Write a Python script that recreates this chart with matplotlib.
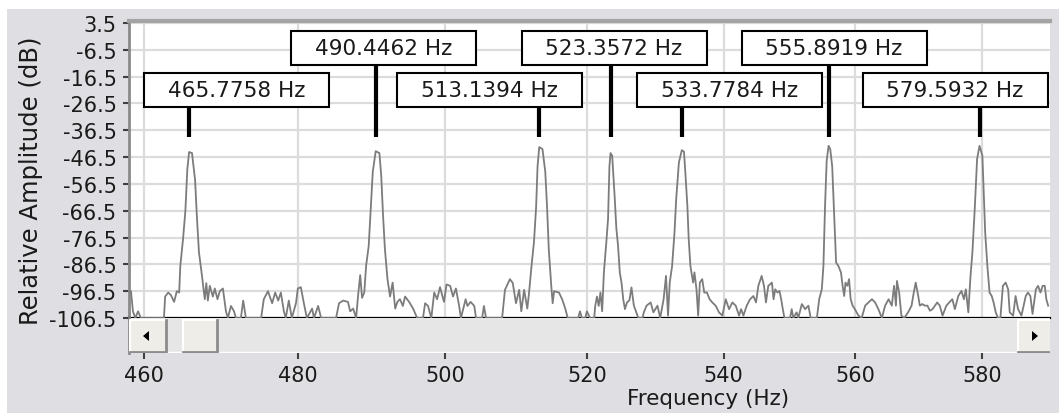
import matplotlib
matplotlib.use("Agg")
import matplotlib.pyplot as plt
from matplotlib.patches import Rectangle, Polygon
from matplotlib.lines import Line2D
from matplotlib.transforms import blended_transform_factory

# ---------------- data ----------------
freq_hz = [
    458.1, 458.35, 458.6, 458.9, 459.25, 459.6, 462.55, 462.7, 463.1, 463.45,
    463.85, 464.2, 464.5, 464.65, 465.0, 465.3, 465.55, 465.78, 466.15, 466.55,
    466.8, 467.05, 467.45, 467.8, 468.0, 468.2, 468.45, 468.85, 469.1, 469.45,
    469.75, 470.15, 470.55, 470.8, 471.2, 471.6, 471.85, 472.5, 472.8, 473.15,
    475.15, 475.5, 476.05, 476.6, 477.0, 477.4, 477.75,
    478.15, 478.4, 478.8, 479.2, 479.75, 480.0, 480.4, 480.8, 481.2, 481.9,
    482.15, 482.7, 483.1, 485.1, 485.5, 486.05, 486.7, 487.0, 487.4, 487.8,
    488.05, 488.35, 488.6, 488.9, 489.15, 489.5, 489.75, 490.05, 490.45, 490.95,
    491.2, 491.45, 491.7, 492.05, 492.4, 492.75, 493.1, 493.4, 493.75, 494.15,
    494.45, 495.0, 495.55, 496.1, 496.9, 497.2, 497.6, 498.05,
    498.45, 498.85, 499.25, 499.8, 500.15, 500.65, 501.05, 501.45, 501.9, 502.15,
    502.8, 503.05, 503.5, 504.0, 504.25, 505.1, 505.35, 505.65, 507.9, 508.3,
    509.0, 509.4, 509.85, 510.3, 510.6, 511.0, 511.45, 511.7, 512.05, 512.4,
    512.7, 512.9, 513.14, 513.6, 514.0, 514.25, 514.5, 514.85, 515.05, 515.25,
    515.95, 516.4, 516.85, 517.2, 518.7, 518.95, 519.25, 519.7, 519.95, 520.4,
    521.0, 521.15, 521.4, 521.65, 521.9, 522.15, 522.4, 522.75, 523.0, 523.2,
    523.36, 523.6, 523.95, 524.2, 524.45, 524.7, 524.95, 525.2, 525.45, 525.75,
    526.1, 526.4, 526.75, 527.1, 527.4, 528.0, 528.2, 528.6, 529.2, 529.6,
    530.2, 530.6, 531.1, 531.45, 531.75, 532.0, 532.35, 532.7, 532.95, 533.35,
    533.78, 534.1, 534.3, 534.6, 534.8, 535.05, 535.45, 535.65, 535.95, 536.2,
    536.45, 536.8, 537.1, 537.5, 537.9, 538.3, 538.8, 539.3, 539.8, 540.3,
    540.8, 541.3, 541.8, 542.3,
    542.6, 542.95, 543.45, 543.95, 544.45, 544.85, 545.2, 545.7, 546.05, 546.35,
    546.7, 547.25, 547.5, 547.75, 548.1, 548.4, 548.65, 548.9, 549.15, 550.0,
    550.25, 550.5, 551.0, 551.25, 551.8, 552.3, 552.8, 553.15, 554.1, 554.45,
    554.85, 555.1, 555.35, 555.6, 555.89, 556.15, 556.45, 556.7, 557.05, 557.4,
    557.8, 558.05, 558.3, 558.5, 558.8, 559.05, 559.3, 559.6, 559.95, 560.5,
    561.0, 561.55, 562.05, 562.6, 563.1, 563.6, 564.15, 564.65, 565.2, 565.7,
    566.05,
    566.35, 566.5, 566.85, 567.2, 567.65, 568.25, 568.8, 569.15, 569.45, 569.85,
    570.1, 570.5, 570.9, 571.3, 571.7, 572.1, 572.5, 572.85, 573.25, 573.7,
    574.3, 574.75, 575.25, 575.65, 576.2, 576.7, 577.1, 577.4, 577.8, 578.15,
    578.45, 578.85, 579.2, 579.59, 580.05, 580.25, 580.5, 580.85, 581.2, 581.55,
    581.85, 582.2, 582.55, 582.95, 583.35, 583.8, 584.2, 584.45, 585.0, 585.4,
    585.8, 586.35, 587.05, 587.4, 587.8, 588.15, 588.7, 589.05, 589.45, 589.8,
    590.15, 590.4, 590.7,
]
amp_db = [
    -97, -96.5, -104, -106.5, -104, -106.5, -106.5, -98.5, -97, -98,
    -100.5, -96.5, -97, -87, -77, -66.5, -51, -44.6, -45, -55,
    -69.6, -82, -91, -99.5, -93.5, -100, -94.5, -98.5, -95.5, -99.5,
    -96.5, -95.5, -104, -106.5, -102, -104, -106.5, -106.5, -100, -106.5,
    -106.5, -99.5, -96.5, -101, -97, -100, -97,
    -104, -106.5, -100, -106.5, -101, -95.5, -95, -101, -106.5, -103,
    -106.5, -102, -106.5, -106.5, -101, -100, -100.5, -104, -103, -106.5,
    -98.5, -90.5, -99, -97, -87, -79.6, -67, -52, -44.3, -45,
    -53.5, -68.5, -80.8, -92, -98.5, -93.3, -103, -100.5, -99.5, -102,
    -98.5, -100.5, -103, -106.5, -106.5, -101, -102, -106.5,
    -97, -99.5, -95, -100.5, -94, -94.5, -98.5, -95.5, -102, -106.5,
    -99.5, -102, -100.5, -102, -106.5, -106.5, -102, -106.5, -106.5, -96,
    -92, -93.5, -101, -96, -104, -96, -103, -97, -87, -78,
    -65, -50, -42.8, -43.5, -52, -65, -81, -94.5, -101, -96.5,
    -97, -99.5, -103, -106.5, -106.5, -104, -106.5, -106.5, -104, -106.5,
    -106.5, -102, -98.5, -102, -97, -104, -89.5, -78.3, -69.6, -50,
    -45, -46, -61, -73, -79.6, -89.5, -93.3, -99.5, -103.2, -100.7,
    -99.9, -95.1, -101.9, -104.4, -106.5, -106.5, -104.4, -101.9, -100.7, -104.4,
    -101.9, -106.5, -99.5, -90.8, -105.6, -93.3, -87.1, -74.6, -62.2, -48.5,
    -43.9, -44.5, -52.2, -64.7, -77.1, -87.1, -93.3, -89.5, -95.8, -105.6,
    -93.3, -92, -97, -97, -99.5, -100.7, -101.9, -104.4, -105.6, -99.5,
    -103.2, -100.7, -101.9, -105.6,
    -103.2, -105.6, -101.9, -99.5, -98.3, -100.7, -94.5, -90.8, -94.5, -100.7,
    -94.5, -93.3, -99.5, -95.8, -97, -96.4, -99.5, -103.2, -106.5, -106.5,
    -103.2, -106.5, -104.4, -106.5, -101.3, -103.2, -101.9, -106.5, -106.5, -99.5,
    -95.8, -87.1, -64.7, -47.9, -42.3, -43.5, -50, -64.7, -85.8, -87.1,
    -89.5, -94.5, -98.3, -93.3, -94.5, -92, -99.5, -101.9, -103.2, -105.6,
    -106.5, -101.9, -100.7, -99.5, -100.7, -103.2, -106.5, -101.9, -99.5, -101.9,
    -94.5,
    -101.9, -92.7, -97, -105.6, -106.5, -104.4, -101.9, -97, -93.3, -98.3,
    -101.9, -101.3, -101.9, -101.9, -103.8, -103.2, -101.9, -100.7, -101.9, -105.6,
    -101.9, -100.7, -99.5, -103.2, -98.3, -96.4, -99.5, -95.8, -104.4, -90.8,
    -82.1, -64.7, -47.2, -42.3, -46, -58.4, -74.6, -87.1, -97, -98.3,
    -100.7, -104.4, -106.5, -106.5, -94.5, -93.3, -95.8, -104.4, -105.6, -98.3,
    -103.2, -105.6, -98.3, -97, -98.3, -105, -95.8, -94.5, -97, -94.5,
    -94.5, -99.5, -101.9,
]

peak_freq_hz = [465.7758, 490.4462, 513.1394, 523.3572, 533.7784, 555.8919, 579.5932]
peak_labels = ["465.7758 Hz", "490.4462 Hz", "513.1394 Hz", "523.3572 Hz",
               "533.7784 Hz", "555.8919 Hz", "579.5932 Hz"]
y_ticks = [3.5, -6.5, -16.5, -26.5, -36.5, -46.5, -56.5, -66.5, -76.5, -86.5, -96.5, -106.5]
x_ticks = [460, 480, 500, 520, 540, 560, 580]
x_limits = (458.1, 591.0)
y_limits = (-106.5, 4.25)
marker_tip_db = -39.0

# ---------------- layout (pixels) ----------------
W, H = 1059, 414
L, R, T, B = 129, 1050, 22, 319
SB_B = 354
PW, PH = R - L, B - T
label_row = [1, 0, 1, 0, 1, 0, 1]
box_left_offset_px = [-45, -85, -142, -89, -45, -87, -117]
BOX_W, BOX_H = 185, 34
row_top_px = [32, 74]

FS_TICK = 15
FS_LABEL = 15.5
TXT = "#1a1a1a"

fig = plt.figure(figsize=(W / 100, H / 100), dpi=100, facecolor="white")
fig.patches.append(Rectangle((7 / W, 0), 1 - 7 / W, 1 - 10 / H, transform=fig.transFigure,
                             facecolor="#dfdfe3", edgecolor="none", zorder=-10))

ax = fig.add_axes([L / W, 1 - B / H, PW / W, PH / H])
ax.set_facecolor("white")
ax.set_xscale("log")
ax.set_xlim(*x_limits)
ax.set_ylim(*y_limits)
ax.set_xticks(x_ticks)
ax.xaxis.set_minor_locator(matplotlib.ticker.NullLocator())
ax.tick_params(axis="x", length=0, labelbottom=False)
ax.set_yticks(y_ticks)
ax.set_yticklabels([f"{v:g}" for v in y_ticks])
ax.tick_params(axis="y", direction="out", length=4, width=1.5, color="#404040",
               labelsize=FS_TICK, labelcolor=TXT, pad=5)
ax.grid(True, color="#dcdcdc", lw=1.6, zorder=0)
ax.set_axisbelow(True)
ax.spines["right"].set_visible(False)
ax.spines["left"].set_color("#8a8a8a")
ax.spines["left"].set_linewidth(2)
ax.spines["top"].set_color("#a4a4a4")
ax.spines["top"].set_linewidth(3)
ax.spines["bottom"].set_color("black")
ax.spines["bottom"].set_linewidth(1.6)

ax.plot(freq_hz, amp_db, color="#7c7c7c", lw=1.3, zorder=3, clip_on=True)

# peak markers and labels
blend = blended_transform_factory(ax.transData, ax.transAxes)
tip_frac = (marker_tip_db - y_limits[0]) / (y_limits[1] - y_limits[0])
inv = ax.transAxes.inverted()
for f, lab, row, off in zip(peak_freq_hz, peak_labels, label_row, box_left_offset_px):
    top_px = row_top_px[row]
    box_top = (B - top_px) / PH
    box_bot = (B - top_px - BOX_H) / PH
    ax.plot([f, f], [tip_frac, box_bot], transform=blend, color="black", lw=3,
            solid_capstyle="butt", zorder=4)
    fxa = inv.transform(ax.transData.transform((f, 0)))[0]
    left = fxa + off / PW
    ax.add_patch(Rectangle((left, box_bot), BOX_W / PW, BOX_H / PH, transform=ax.transAxes,
                           facecolor="white", edgecolor="black", lw=1.5, zorder=5))
    ax.text(left + BOX_W / PW / 2, (box_top + box_bot) / 2, lab, transform=ax.transAxes,
            ha="center", va="center", fontsize=FS_LABEL, color=TXT, zorder=6)

# ---------------- scrollbar strip with x axis ----------------
sb = fig.add_axes([L / W, 1 - SB_B / H, PW / W, (SB_B - B) / H])
sb.set_xscale("log")
sb.set_xlim(*x_limits)
sb.set_ylim(0, 1)
sb.set_yticks([])
sb.set_xticks(x_ticks)
sb.set_xticklabels([str(v) for v in x_ticks])
sb.xaxis.set_minor_locator(matplotlib.ticker.NullLocator())
sb.tick_params(axis="x", direction="out", length=4, width=1.5, color="#404040",
               labelsize=FS_TICK, labelcolor=TXT, pad=5)
for s in ("top", "right", "bottom"):
    sb.spines[s].set_visible(False)
sb.spines["left"].set_color("#8a8a8a")
sb.spines["left"].set_linewidth(2)
sb.set_facecolor("#e6e6e6")


def sx(px):
    return (px - L) / PW


def sy(py):
    return (SB_B - py) / (SB_B - B)


sb.add_line(Line2D([0, 1], [sy(353.5), sy(353.5)], transform=sb.transAxes, color="white", lw=2.5))


def button(x0, x1, y0, y1):
    sb.add_patch(Rectangle((sx(x0), sy(y1)), sx(x1) - sx(x0), sy(y0) - sy(y1), transform=sb.transAxes,
                           facecolor="#eeede8", edgecolor="none", zorder=3))
    sb.add_line(Line2D([sx(x0), sx(x0), sx(x1)], [sy(y1), sy(y0), sy(y0)], transform=sb.transAxes,
                       color="white", lw=1.5, zorder=4))
    sb.add_line(Line2D([sx(x0), sx(x1), sx(x1)], [sy(y1), sy(y1), sy(y0)], transform=sb.transAxes,
                       color="#8c8c8c", lw=2, zorder=4))


button(130, 166, 321, 353)
button(183, 217, 321, 353)
button(1018, 1051, 321, 353)
sb.add_patch(Polygon([(sx(143), sy(337)), (sx(149), sy(332)), (sx(149), sy(342))], closed=True,
                     transform=sb.transAxes, facecolor="black", edgecolor="none", zorder=5))
sb.add_patch(Polygon([(sx(1038), sy(337)), (sx(1032), sy(332)), (sx(1032), sy(342))], closed=True,
                     transform=sb.transAxes, facecolor="black", edgecolor="none", zorder=5))

# axis titles
fig.text(708 / W, 1 - 399 / H, "Frequency (Hz)", ha="center", va="center", fontsize=FS_LABEL, color=TXT)
fig.text(31 / W, 1 - 181 / H, "Relative Amplitude (dB)", rotation=90, ha="center", va="center",
         fontsize=17.5, color=TXT)

fig.savefig("out.png", dpi=100, facecolor=fig.get_facecolor())
